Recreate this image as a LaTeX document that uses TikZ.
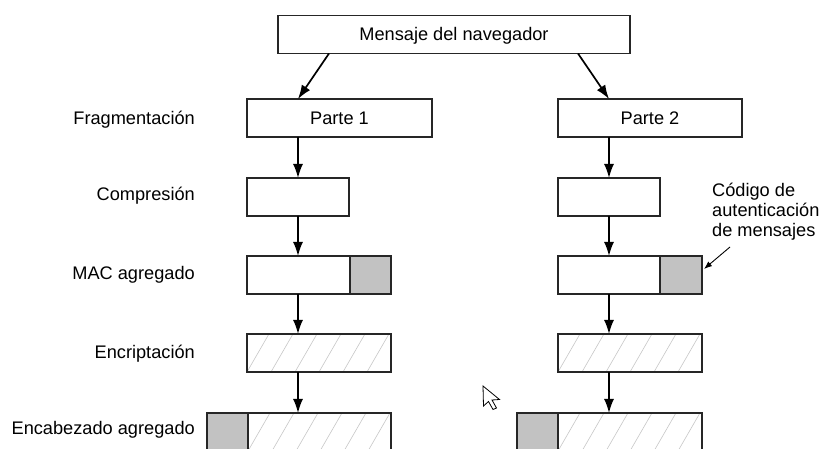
\documentclass[tikz,border=0pt]{standalone}
\usepackage{fontspec}
\setmainfont{Liberation Sans}
\usetikzlibrary{arrows.meta,calc}

\begin{document}
\begin{tikzpicture}[x=1pt,y=-1pt,
  font=\fontsize{18.2}{20}\selectfont,
  box/.style={draw=black!85, line width=1.2pt, inner sep=0pt, outer sep=0pt,
    minimum height=38pt, text height=13pt, text depth=0pt, fill=white},
  macbox/.style={box, fill=gray!48},
  hatchbox/.style={box, path picture={
      \foreach \i in {-3,...,10}{
        \draw[black!22, line width=0.6pt]
          ([xshift={\i*24pt}]path picture bounding box.south west) -- ++(60:60pt);}}},
  flow/.style={line width=1.7pt, -{Latex[length=14pt,width=10pt]}},
  note/.style={line width=0.9pt, -{Latex[length=8pt,width=6pt]}},
  steplabel/.style={anchor=base east, inner sep=0pt},
]
\clip (0,0) rectangle (823,449);

% message and fragments
\node[box, minimum width=352pt] (msg) at (454,34.5) {Mensaje del navegador};
\node[box, minimum width=185pt] (p1) at (339.5,118) {Parte 1};
\node[box, minimum width=184pt] (p2) at (650,118) {Parte 2};

% compressed fragments
\node[box, minimum width=102pt] (c1) at (298,197) {};
\node[box, minimum width=102pt] (c2) at (609,197) {};

% fragments with MAC appended
\node[box, minimum width=103pt] (m1) at (298.5,275) {};
\node[macbox, minimum width=41pt, anchor=west] (t1) at (m1.east) {};
\node[box, minimum width=102pt] (m2) at (609,275) {};
\node[macbox, minimum width=42pt, anchor=west] (t2) at (m2.east) {};

% encrypted fragments
\node[hatchbox, minimum width=144pt] (e1) at (319,353) {};
\node[hatchbox, minimum width=144pt] (e2) at (630,353) {};

% encrypted fragments with header
\node[hatchbox, minimum width=143pt] (h1) at (319.5,432) {};
\node[macbox, minimum width=41pt, anchor=east] (g1) at (h1.west) {};
\node[hatchbox, minimum width=144pt] (h2) at (630,432) {};
\node[macbox, minimum width=41pt, anchor=east] (g2) at (h2.west) {};

% step labels
\node[steplabel] (lfrag) at (195,124.5) {Fragmentación};
\node[steplabel] (lcomp) at (195,200.5) {Compresión};
\node[steplabel] (lmac)  at (195,280)   {MAC agregado};
\node[steplabel] (lenc)  at (195,358.5) {Encriptación};
\node[steplabel] (lhdr)  at (195,435)   {Encabezado agregado};

% MAC annotation (base anchor sits on the last line)
\node[anchor=base west, align=left, inner sep=0pt] (mactext) at (712,236.7)
  {Código de\\autenticación\\de mensajes};
\coordinate (notetail) at (730,247);
\draw[note] (notetail) -- ([shift={(2pt,6pt)}]t2.east);

% flow arrows
\draw[flow] ([xshift=-125pt]msg.south) -- (p1.north -| c1.north);
\draw[flow] ([xshift=124pt]msg.south) -- (p2.north -| c2.north);

\draw[flow] (p1.south -| c1.north) -- (c1.north);
\draw[flow] (c1.south) -- (m1.north -| c1.south);
\draw[flow] (m1.south -| c1.south) -- (e1.north -| c1.south);
\draw[flow] (e1.south -| c1.south) -- (h1.north -| c1.south);

\draw[flow] (p2.south -| c2.north) -- (c2.north);
\draw[flow] (c2.south) -- (m2.north -| c2.south);
\draw[flow] (m2.south -| c2.south) -- (e2.north -| c2.south);
\draw[flow] (e2.south -| c2.south) -- (h2.north -| c2.south);

% mouse pointer
\draw[line width=0.8pt, fill=white, line join=miter]
  (483,386) -- (483.5,406) -- (488.5,401.5) -- (493,409.5) -- (496.5,408)
  -- (492,400) -- (499.5,399.5) -- cycle;
\end{tikzpicture}
\end{document}
